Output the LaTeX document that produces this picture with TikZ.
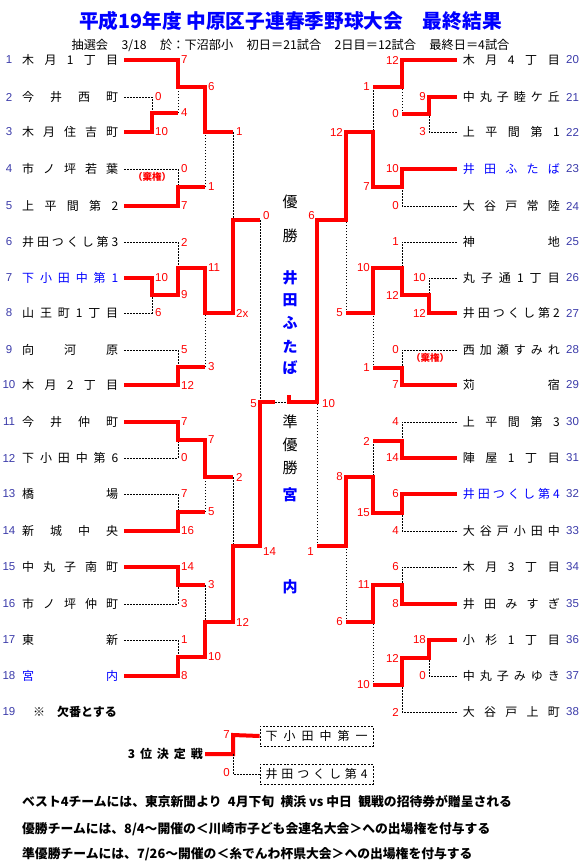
\documentclass[tikz,border=0pt]{standalone}
\usepackage{fontspec}
\setmainfont{Noto Sans CJK JP}
\newfontfamily\arial{Liberation Sans}
\definecolor{numblue}{RGB}{60,60,170}
\definecolor{tblue}{RGB}{0,0,255}
\definecolor{sred}{RGB}{255,0,0}
\makeatletter
\def\spr@ad#1#2\@nil{#1\ifx\relax#2\relax\else\hfill\spr@ad#2\@nil\fi}
\newcommand\spreadtx[2]{\hbox to #1{\expandafter\spr@ad#2\@nil}}
\makeatother
\tikzset{
  win/.style={draw=sred, line width=4pt},
  lose/.style={draw=black, line width=1pt, dash pattern=on 1.5pt off 1.5pt},
  tname/.style={inner sep=0pt, font=\fontsize{12}{12}\selectfont},
  tnum/.style={inner sep=0pt, text=numblue, font=\arial\fontsize{11.5}{12}\selectfont},
  sc/.style={inner sep=0pt, text=sred, font=\arial\fontsize{11.5}{12}\selectfont},
  scL/.style={sc, anchor=west},
  scR/.style={sc, anchor=east},
  ctr/.style={inner sep=0pt, font=\fontsize{15}{15}\selectfont},
  ctrb/.style={inner sep=0pt, text=tblue, font=\bfseries\fontsize{15}{15}\selectfont},
  dbox/.style={draw=black, line width=0.8pt, dash pattern=on 2pt off 1.5pt, minimum width=113pt, minimum height=20pt, inner sep=0pt, font=\fontsize{12}{12}\selectfont},
  kiken/.style={inner sep=0pt, text=sred, font=\bfseries\fontsize{9.5}{10}\selectfont},
  note/.style={inner sep=0pt, anchor=west, font=\bfseries\fontsize{12.8}{13}\selectfont}
}
\begin{document}
\begin{tikzpicture}[x=1pt,y=-1pt]
\useasboundingbox (0,0) rectangle (588,867);
\fill[white] (0,0) rectangle (588,867);
% title
\node[inner sep=0pt, text=tblue, font=\bfseries\fontsize{19.7}{20}\selectfont] (title) at (290.5,21) {平成19年度 中原区子連春季野球大会\hspace{1em}最終結果};
\node[inner sep=0pt, font=\fontsize{12.2}{12.5}\selectfont] (sub) at (290.5,45) {抽選会\hspace{1.1em}3/18\hspace{1.1em}於：下沼部小\hspace{1.1em}初日＝21試合\hspace{1.1em}2日目＝12試合\hspace{1.1em}最終日＝4試合};
% left team numbers and names
\foreach \n/\y/\t/\c in {1/60/木月1丁目/black, 2/97/今井西町/black, 3/132/木月住吉町/black, 4/169/市ノ坪若葉/black, 5/206/上平間第2/black, 6/242/井田つくし第3/black, 7/278/下小田中第1/tblue, 8/313/山王町1丁目/black, 9/350/向河原/black, 10/385/木月2丁目/black, 11/422/今井仲町/black, 12/458/下小田中第6/black, 13/494/橋場/black, 14/531/新城中央/black, 15/567/中丸子南町/black, 16/604/市ノ坪仲町/black, 17/640/東新/black, 18/676/宮内/tblue}{
  \node[tnum] (n\n) at (9,\y) {\n};
  \node[tname, anchor=west, text=\c] (t\n) at (22,\y) {\spreadtx{96pt}{\t}};
}
\node[tnum] (n19) at (9,712) {19};
\node[tname, anchor=west, font=\bfseries\fontsize{12}{12}\selectfont] (t19a) at (33,712) {※};
\node[tname, anchor=west, font=\bfseries\fontsize{12}{12}\selectfont] (t19) at (57,712) {欠番とする};
% right team numbers and names
\foreach \n/\y/\t/\c in {20/60/木月4丁目/black, 21/97/中丸子睦ケ丘/black, 22/132/上平間第1/black, 23/169/井田ふたば/tblue, 24/206/大谷戸常陸/black, 25/242/神地/black, 26/278/丸子通1丁目/black, 27/313/井田つくし第2/black, 28/350/西加瀬すみれ/black, 29/385/苅宿/black, 30/422/上平間第3/black, 31/458/陣屋1丁目/black, 32/494/井田つくし第4/tblue, 33/531/大谷戸小田中/black, 34/567/木月3丁目/black, 35/604/井田みすぎ/black, 36/640/小杉1丁目/black, 37/676/中丸子みゆき/black, 38/712/大谷戸上町/black}{
  \node[tnum, anchor=west] (n\n) at (566,\y) {\n};
  \node[tname, anchor=east, text=\c] (t\n) at (560,\y) {\spreadtx{97pt}{\t}};
}
% ---------- left bracket: losers (dotted)
\draw[lose] ([xshift=6pt]t2.east) -- (152,97) -- (152,113);
\draw[lose] (178,113) -- (178,87);
\draw[lose] ([xshift=6pt]t4.east) -- (178,169) -- (178,187);
\draw[lose] (205,187) -- (205,132);
\draw[lose] (233,132) -- (233,220);
\draw[lose] ([xshift=6pt]t6.east) -- (178,242) -- (178,268);
\draw[lose] ([xshift=6pt]t8.east) -- (152,313) -- (152,295);
\draw[lose] ([xshift=6pt]t9.east) -- (178,350) -- (178,367);
\draw[lose] (205,367) -- (205,313);
\draw[lose] (260,220) -- (260,402);
\draw[lose] (233,477) -- (233,546);
\draw[lose] ([xshift=6pt]t12.east) -- (178,458) -- (178,440);
\draw[lose] ([xshift=6pt]t13.east) -- (178,494) -- (178,512);
\draw[lose] (205,512) -- (205,477);
\draw[lose] (205,585) -- (205,622);
\draw[lose] ([xshift=6pt]t16.east) -- (178,604) -- (178,585);
\draw[lose] ([xshift=6pt]t17.east) -- (178,640) -- (178,657);
\draw[lose] (275,402) -- (289,402);
% ---------- left bracket: winners (red)
\draw[win] ([xshift=6pt]t1.east) -- (178,60) -- (178,87) -- (205,87) -- (205,132) -- (233,132);
\draw[win] ([xshift=6pt]t3.east) -- (152,132) -- (152,113) -- (178,113);
\draw[win] ([xshift=6pt]t5.east) -- (178,206) -- (178,187) -- (205,187);
\draw[win] ([xshift=6pt]t7.east) -- (152,278) -- (152,295) -- (178,295) -- (178,268) -- (205,268) -- (205,313) -- (233,313) -- (233,220) -- (260,220);
\draw[win] ([xshift=6pt]t10.east) -- (178,385) -- (178,367) -- (205,367);
\draw[win] ([xshift=6pt]t11.east) -- (178,422) -- (178,440) -- (205,440) -- (205,477) -- (233,477);
\draw[win] ([xshift=6pt]t14.east) -- (178,531) -- (178,512) -- (205,512);
\draw[win] ([xshift=6pt]t15.east) -- (178,567) -- (178,585) -- (205,585);
\draw[win] ([xshift=6pt]t18.east) -- (178,676) -- (178,657) -- (205,657) -- (205,622) -- (233,622) -- (233,546) -- (260,546) -- (260,402) -- (275,402);
% ---------- right bracket: losers
\draw[lose] (373,87) -- (373,132);
\draw[lose] (402,114) -- (402,87);
\draw[lose] ([xshift=-6pt]t22.west) -- (429,132) -- (429,114);
\draw[lose] ([xshift=-6pt]t24.west) -- (402,206) -- (402,187);
\draw[lose] ([xshift=-6pt]t25.west) -- (402,242) -- (402,268);
\draw[lose] ([xshift=-6pt]t26.west) -- (429,278) -- (429,295);
\draw[lose] (346,313) -- (346,220);
\draw[lose] ([xshift=-6pt]t28.west) -- (402,350) -- (402,368);
\draw[lose] (373,368) -- (373,313);
\draw[lose] ([xshift=-6pt]t30.west) -- (402,422) -- (402,441);
\draw[lose] (373,441) -- (373,477);
\draw[lose] (317,546) -- (317,402);
\draw[lose] ([xshift=-6pt]t33.west) -- (402,531) -- (402,513);
\draw[lose] ([xshift=-6pt]t34.west) -- (402,567) -- (402,585);
\draw[lose] (346,622) -- (346,546);
\draw[lose] (373,685) -- (373,622);
\draw[lose] ([xshift=-6pt]t37.west) -- (429,676) -- (429,658);
\draw[lose] ([xshift=-6pt]t38.west) -- (402,712) -- (402,685);
% ---------- right bracket: winners
\draw[win] ([xshift=-6pt]t20.west) -- (402,60) -- (402,87) -- (373,87);
\draw[win] ([xshift=-6pt]t21.west) -- (429,97) -- (429,114) -- (402,114);
\draw[win] ([xshift=-6pt]t23.west) -- (402,169) -- (402,187) -- (373,187) -- (373,132) -- (346,132) -- (346,220) -- (317,220) -- (317,402) -- (289,402) -- (289,395);
\draw[win] ([xshift=-6pt]t27.west) -- (429,313) -- (429,295) -- (402,295) -- (402,268) -- (373,268) -- (373,313) -- (346,313);
\draw[win] ([xshift=-6pt]t29.west) -- (402,385) -- (402,368) -- (373,368);
\draw[win] ([xshift=-6pt]t31.west) -- (402,458) -- (402,441) -- (373,441);
\draw[win] ([xshift=-6pt]t32.west) -- (402,494) -- (402,513) -- (373,513) -- (373,477) -- (346,477) -- (346,546) -- (317,546);
\draw[win] ([xshift=-6pt]t35.west) -- (402,604) -- (402,585) -- (373,585) -- (373,622) -- (346,622);
\draw[win] ([xshift=-6pt]t36.west) -- (429,640) -- (429,658) -- (402,658) -- (402,685) -- (373,685);
% ---------- scores
\foreach \x/\y/\t [count=\i] in {181/60/7, 155/97/0, 155/132/10, 181/113/4, 208/87/6, 181/169/0, 181/206/7, 208/187/1, 236/132/1, 181/242/2, 155/278/10, 155/313/6, 181/295/9, 208/268/11, 181/350/5, 181/385/12, 208/367/3, 236/313/2x, 263/216/0, 181/422/7, 181/458/0, 208/440/7, 181/494/7, 181/531/16, 208/512/5, 236/477/2, 181/567/14, 181/604/3, 208/585/3, 181/640/1, 181/676/8, 208/657/10, 236/622/12, 263/552/14, 322/404/10}
  \node[scL] (sl\i) at (\x,\y) {\t};
\foreach \x/\y/\t [count=\i] in {399/60/12, 426/97/9, 426/132/3, 399/114/0, 370/87/1, 399/169/10, 399/206/0, 370/187/7, 343/132/12, 399/242/1, 426/278/10, 426/313/12, 399/295/12, 370/268/10, 399/350/0, 399/385/7, 370/368/1, 343/313/5, 399/422/4, 399/458/14, 370/441/2, 399/494/6, 399/531/4, 370/513/15, 343/477/8, 399/567/6, 399/604/8, 370/585/11, 426/640/18, 426/676/0, 399/658/12, 399/712/2, 370/685/10, 343/622/6, 315/216/6, 314/552/1, 257/404/5, 230/735/7, 230/773/0}
  \node[scR] (sr\i) at (\x,\y) {\t};
\node[kiken] (k1) at (152,177) {（棄権）};
\node[kiken] (k2) at (430,358) {（棄権）};
% ---------- centre texts
\node[ctr] (c1) at (290,202) {優};
\node[ctr] (c2) at (290,236) {勝};
\foreach \y/\t [count=\i] in {278/井, 300/田, 323/ふ, 347/た, 368/ば}
  \node[ctrb] (w\i) at (290,\y) {\t};
\node[ctr] (c3) at (290,422) {準};
\node[ctr] (c4) at (290,445) {優};
\node[ctr] (c5) at (290,468) {勝};
\node[ctrb] (m1) at (290,495) {宮};
\node[ctrb] (m2) at (290,587) {内};
% ---------- third place
\node[inner sep=0pt, anchor=east, font=\bfseries\fontsize{12}{12}\selectfont] (third) at (203,754) {\spreadtx{75pt}{3位決定戦}};
\node[dbox] (b1) at (316.5,736) {\spreadtx{102pt}{下小田中第一}};
\node[dbox] (b2) at (316.5,774) {\spreadtx{102pt}{井田つくし第4}};
\draw[win] ([xshift=2pt]third.east) -- (233,754) -- (233,735) -- (b1.west);
\draw[lose] (233,754) -- (233,774) -- (b2.west);
% ---------- notes
\node[note] (nt1) at (22,802) {ベスト4チームには、東京新聞より\hspace{0.5em}4月下旬\hspace{0.5em}横浜 vs 中日\hspace{0.5em}観戦の招待券が贈呈される};
\node[note] (nt2) at (22,829) {優勝チームには、8/4～開催の＜川崎市子ども会連名大会＞への出場権を付与する};
\node[note] (nt3) at (22,854) {準優勝チームには、7/26～開催の＜糸でんわ杯県大会＞への出場権を付与する};
\end{tikzpicture}
\end{document}
